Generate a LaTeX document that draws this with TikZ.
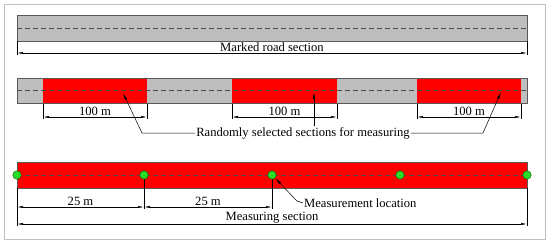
\documentclass[tikz,border=0pt]{standalone}
\usepackage{fontspec}
\setmainfont{Liberation Serif}
\usetikzlibrary{arrows.meta}
\definecolor{roadgray}{RGB}{190,190,190}
\definecolor{dotgreen}{RGB}{40,220,40}
\tikzset{
  road/.style={draw=black!65, line width=0.6pt},
  centreline/.style={dash pattern=on 5pt off 3pt, black!70, line width=0.5pt},
  dim/.style={{Latex[length=6pt,width=2.2pt]}-{Latex[length=6pt,width=2.2pt]}, line width=0.5pt},
  extline/.style={line width=0.5pt},
  lead/.style={-{Latex[length=7pt,width=2.6pt]}, line width=0.5pt},
  spot/.style={circle, fill=dotgreen, draw=green!35!black, line width=0.4pt, inner sep=0pt, minimum size=8.5pt},
  lbl/.style={font=\fontsize{12.6}{14}\selectfont, inner sep=1pt}
}
\begin{document}
\begin{tikzpicture}[x=1pt,y=-1pt]
\useasboundingbox (0,0) rectangle (550,244);
\draw[black!25, line width=1pt] (4,4) rectangle (545,239);
% marked road
\fill[roadgray] (17,15) rectangle (527,41);
\draw[road] (17,15) rectangle (527,41);
\draw[centreline] (17,28) -- (527,28);
\draw[extline] (17,41) -- (17,55) (527,41) -- (527,55);
\coordinate (ma) at (17,53);
\coordinate (mb) at (527,53);
\draw[dim] (ma) -- node[lbl, above] (marked) {Marked road section} (mb);
% random sections
\fill[roadgray] (17,78) rectangle (527,103);
\foreach \a/\b in {43/147, 232/337, 417/521} {
  \fill[red] (\a,78) rectangle (\b,103);
  \draw[extline] (\a,103) -- (\a,119) (\b,103) -- (\b,119);
  \draw[dim] (\a,117) -- node[lbl, above] {100 m} (\b,117);
}
\draw[road] (17,78) rectangle (527,103);
\draw[centreline] (17,90.5) -- (527,90.5);
\node[lbl] (rand) at (303,133) {Randomly selected sections for measuring};
\coordinate (t1) at (123,93);
\coordinate (t2) at (314,92);
\coordinate (t3) at (501,92);
\draw[lead] (rand.west) -- (142,133) -- (t1);
\draw[lead] (rand.north -| t2) -- (t2);
\draw[lead] (rand.east) -- (483,133) -- (t3);
% measuring section
\fill[red] (17,162) rectangle (527,188);
\draw[road] (17,162) rectangle (527,188);
\draw[centreline] (17,175) -- (527,175);
\draw[extline] (17,188) -- (17,226) (527,188) -- (527,226);
\draw[extline] (144,175) -- (144,209) (272,175) -- (272,209);
\foreach \x [count=\i from 0] in {17,144,272,400,527}
  \node[spot] (p\i) at (\x,175) {};
\draw[dim] (17,207) -- node[lbl, above] {25 m} (144,207);
\draw[dim] (144,207) -- node[lbl, above] {25 m} (272,207);
\draw[dim] (17,224) -- node[lbl, above] (meas) {Measuring section} (527,224);
\node[lbl, anchor=west] (loc) at (303,203) {Measurement location};
\draw[lead] (loc.west) -- (297,201) -- (p2.south east);
\end{tikzpicture}
\end{document}
